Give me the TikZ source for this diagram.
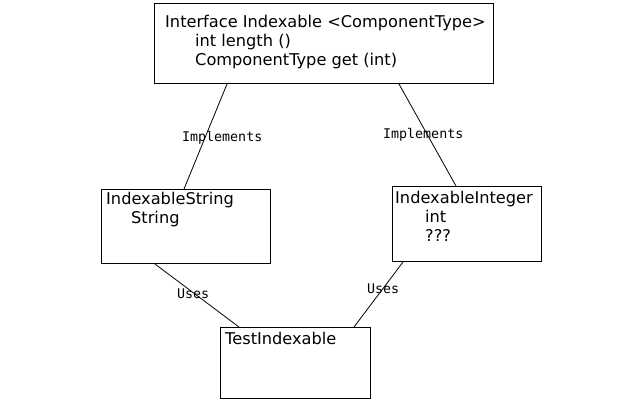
\documentclass[tikz,border=0pt]{standalone}
\usepackage{fontspec}
\setmainfont{DejaVu Sans}
\newfontfamily\labelfont{DejaVu Sans Mono}
\usetikzlibrary{calc}
\begin{document}
\begin{tikzpicture}[x=1pt,y=-1pt,
  box/.style={draw, line width=1pt, inner sep=0pt, anchor=north west},
  txt/.style={anchor=base west, inner sep=0pt, font=\fontsize{16.2}{19}\selectfont},
  lbl/.style={anchor=base west, inner sep=0pt, font=\labelfont\fontsize{13.3}{16}\selectfont},
  conn/.style={line width=0.8pt}]
\useasboundingbox (0,0) rectangle (640,400);
% boxes
\node[box, minimum width=339pt, minimum height=80pt] (iface) at (154,3) {};
\node[box, minimum width=169pt, minimum height=74pt] (sbox) at (101,189) {};
\node[box, minimum width=149pt, minimum height=75pt] (ibox) at (392,186) {};
\node[box, minimum width=150pt, minimum height=71pt] (tbox) at (220,327) {};
% texts
\node[txt] (t1) at (165,27) {Interface Indexable <ComponentType>};
\node[txt] (t2) at (195,46) {int length ()};
\node[txt] (t3) at (195,65) {ComponentType get (int)};
\node[txt] (s1) at (106,204) {IndexableString};
\node[txt] (s2) at (131,223) {String};
\node[txt] (i1) at (395,203) {IndexableInteger};
\node[txt] (i2) at (425,222) {int};
\node[txt] (i3) at (425,241) {???};
\node[txt] (x1) at (225,344) {TestIndexable};
% connectors
\draw[conn] ($(iface.south west)+(73,0)$) -- ($(sbox.north west)+(83,0)$);
\draw[conn] ($(iface.south west)+(245,0)$) -- ($(ibox.north west)+(64,0)$);
\draw[conn] ($(sbox.south west)+(54,0)$) -- ($(tbox.north west)+(19,0)$);
\draw[conn] ($(ibox.south west)+(11,0)$) -- ($(tbox.north west)+(134,0)$);
% labels
\node[lbl] (l1) at (182,141) {Implements};
\node[lbl] (l2) at (383,138) {Implements};
\node[lbl] (l3) at (177,298) {Uses};
\node[lbl] (l4) at (367,293) {Uses};
\end{tikzpicture}
\end{document}
